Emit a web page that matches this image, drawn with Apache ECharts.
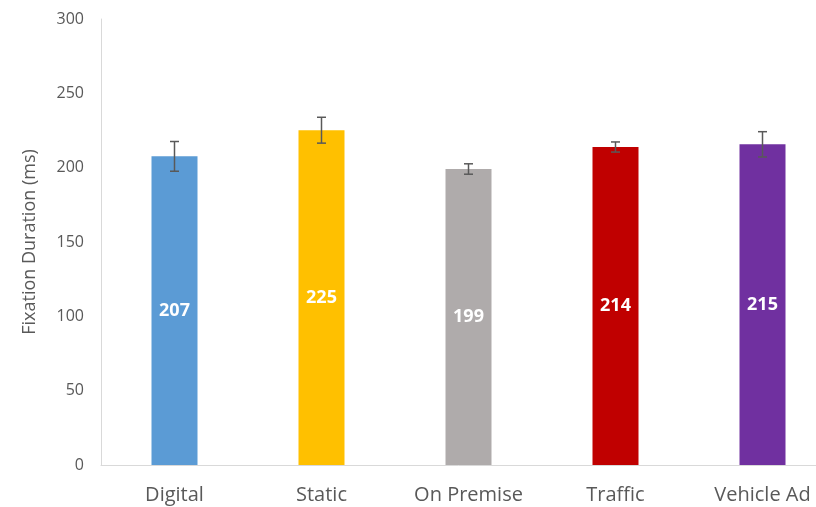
<!DOCTYPE html>
<html>
<head>
<meta charset="utf-8">
<script src="https://cdn.jsdelivr.net/npm/echarts@6/dist/echarts.min.js"></script>
<style>
  html, body { margin: 0; padding: 0; background: #fff; }
  #main { width: 816px; height: 507px; }
</style>
</head>
<body>
<div id="main"></div>
<script>
var categories = ['Digital', 'Static', 'On Premise', 'Traffic', 'Vehicle Ad'];
var means = [207.6, 225.2, 199.1, 213.9, 215.7];
var labels = [207, 225, 199, 214, 215];
var errors = [10, 8.7, 3.5, 3.4, 8.5];
var colors = ['#5b9bd5', '#ffc000', '#afabab', '#c00000', '#7030a0'];

var chartDom = document.getElementById('main');
var myChart = echarts.init(chartDom);
var option;

var font = '"Open Sans", sans-serif';

option = {
  animation: false,
  grid: {
    left: 101,
    top: 19,
    width: 735,
    height: 446,
    outerBoundsMode: 'none'
  },
  xAxis: {
    type: 'category',
    data: categories,
    axisLine: { lineStyle: { color: '#d9d9d9', width: 1 } },
    axisTick: { show: false },
    axisLabel: {
      color: '#595959',
      fontSize: 20,
      fontFamily: font,
      margin: 20
    }
  },
  yAxis: {
    type: 'value',
    min: 0,
    max: 300,
    interval: 50,
    name: 'Fixation Duration (ms)',
    nameLocation: 'middle',
    nameGap: 62,
    nameTextStyle: { color: '#595959', fontSize: 18, fontFamily: font },
    axisLine: { show: true, lineStyle: { color: '#d9d9d9', width: 1 } },
    axisTick: { show: false },
    splitLine: { show: false },
    axisLabel: {
      color: '#595959',
      fontSize: 16,
      fontFamily: font,
      margin: 17
    }
  },
  series: [
    {
      type: 'bar',
      barWidth: 46,
      data: means.map(function (v, i) {
        return { value: v, itemStyle: { color: colors[i] } };
      }),
      label: {
        show: true,
        position: 'inside',
        color: '#fff',
        fontWeight: 'bold',
        fontSize: 18,
        fontFamily: font,
        formatter: function (p) {
          return labels[p.dataIndex];
        }
      }
    },
    {
      type: 'custom',
      data: means.map(function (v, i) {
        return [i, v - errors[i], v + errors[i]];
      }),
      z: 10,
      renderItem: function (params, api) {
        var lo = api.coord([api.value(0), api.value(1)]);
        var hi = api.coord([api.value(0), api.value(2)]);
        var half = 4.5;
        var style = { stroke: '#595959', lineWidth: 1.5 };
        return {
          type: 'group',
          children: [
            { type: 'line', shape: { x1: hi[0], y1: hi[1], x2: lo[0], y2: lo[1] }, style: style },
            { type: 'line', shape: { x1: hi[0] - half, y1: hi[1], x2: hi[0] + half, y2: hi[1] }, style: style },
            { type: 'line', shape: { x1: lo[0] - half, y1: lo[1], x2: lo[0] + half, y2: lo[1] }, style: style }
          ]
        };
      }
    }
  ]
};

option && myChart.setOption(option);
</script>
</body>
</html>
